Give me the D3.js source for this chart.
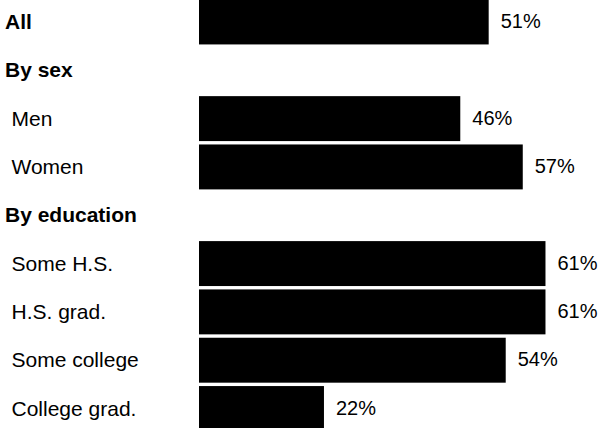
<!DOCTYPE html>
<html>
<head>
<meta charset="utf-8">
<script src="https://cdn.jsdelivr.net/npm/d3@7"></script>
<style>
  html, body { margin: 0; padding: 0; background: #fff; }
  svg { display: block; }
  text { font-family: "Liberation Sans", Arial, Helvetica, sans-serif; fill: #000; }
</style>
</head>
<body>
<svg id="chart" width="601" height="428"></svg>
<script>
// Data
const categories = ["All", "By sex", "Men", "Women", "By education", "Some H.S.", "H.S. grad.", "Some college", "College grad."];
const values = [51, null, 46, 57, null, 61, 61, 54, 22];
const boldRows = [true, true, false, false, true, false, false, false, false];
const valueLabels = ["51%", "", "46%", "57%", "", "61%", "61%", "54%", "22%"];

const W = 601, H = 428;
const svg = d3.select("#chart");

const x = d3.scaleLinear().domain([0, 100]).range([199, 767]);
const y = d3.scaleBand()
  .domain(d3.range(categories.length))
  .range([-0.5, 431])
  .paddingInner(0.07)
  .paddingOuter(0);

const rows = categories.map((c, i) => ({ i, label: c, value: values[i], bold: boldRows[i], vlabel: valueLabels[i] }));

// Row labels
svg.append("g").selectAll("text")
  .data(rows)
  .join("text")
  .attr("x", d => d.bold ? 5 : 11.5)
  .attr("y", d => y(d.i) + y.bandwidth() / 2)
  .attr("dy", "0.34em")
  .style("font-size", d => d.bold ? "21px" : "21px")
  .style("font-weight", d => d.bold ? "bold" : "normal")
  .text(d => d.label);

const barRows = rows.filter(d => d.value != null);

// Bars
svg.append("g").selectAll("rect")
  .data(barRows)
  .join("rect")
  .attr("x", x(0))
  .attr("y", d => y(d.i))
  .attr("width", d => x(d.value) - x(0))
  .attr("height", y.bandwidth())
  .attr("fill", "#000");

// Value labels
svg.append("g").selectAll("text")
  .data(barRows)
  .join("text")
  .attr("x", d => x(d.value) + 12)
  .attr("y", d => y(d.i) + y.bandwidth() / 2)
  .attr("dy", "0.3em")
  .style("font-size", "20px")
  .text(d => d.vlabel);
</script>
</body>
</html>
